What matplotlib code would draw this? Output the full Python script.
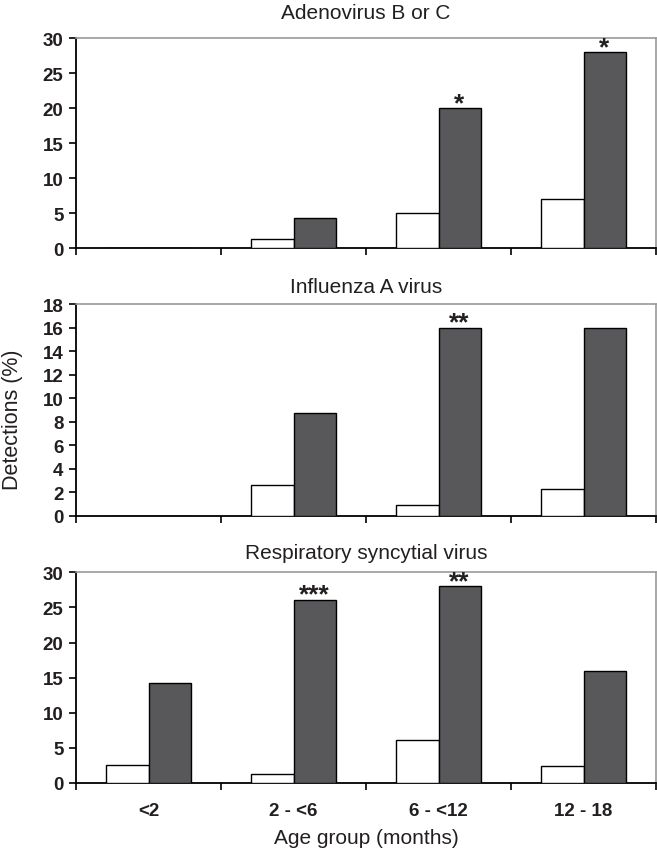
import matplotlib
matplotlib.use("Agg")
import matplotlib.pyplot as plt
import numpy as np

plt.rcParams['font.family'] = ['Liberation Sans', 'DejaVu Sans']

age_groups = ["<2", "2 - <6", "6 - <12", "12 - 18"]
titles = ["Adenovirus B or C", "Influenza A virus", "Respiratory syncytial virus"]

adeno_white = [0, 1.3, 5.1, 7.0]
adeno_dark = [0, 4.3, 20.0, 28.0]
adeno_stars = ["", "", "*", "*"]

flu_white = [0, 2.65, 0.9, 2.3]
flu_dark = [0, 8.7, 16.0, 16.0]
flu_stars = ["", "", "**", ""]

rsv_white = [2.5, 1.3, 6.1, 2.4]
rsv_dark = [14.2, 26.1, 28.0, 16.0]
rsv_stars = ["", "***", "**", ""]

ylims = [30, 18, 30]
ysteps = [5, 2, 5]

W, H = 657, 853
fig = plt.figure(figsize=(W / 100, H / 100), dpi=100)

# axes boxes in pixels: (top, bottom)
boxes = [(39.3, 249.3), (305, 516.7), (573.3, 784)]
left_px, right_px = 76, 656
title_pads = [14.5, 8.5, 10.5]

data = [(adeno_white, adeno_dark, adeno_stars),
        (flu_white, flu_dark, flu_stars),
        (rsv_white, rsv_dark, rsv_stars)]

x = np.arange(len(age_groups))
bw = 0.29
txt_color = "#231f20"

for k, ((top, bot), (wv, dv, stars)) in enumerate(zip(boxes, data)):
    ax = fig.add_axes([left_px / W, (H - bot) / H, (right_px - left_px) / W, (bot - top) / H])
    ax.bar(x - bw / 2, wv, width=bw, color="white", edgecolor="black", linewidth=1.0, zorder=3)
    ax.bar(x + bw / 2, dv, width=bw, color="#58585a", edgecolor="black", linewidth=1.0, zorder=3)
    for xi, v, s in zip(x, dv, stars):
        if s:
            ax.annotate(s, xy=(xi + bw / 2, v), xytext=(0, -1.5), textcoords="offset points",
                        ha="center", va="baseline", fontsize=19, fontweight="bold",
                        color=txt_color, annotation_clip=False)
    ax.set_xlim(-0.5, len(age_groups) - 0.5)
    ax.set_ylim(0, ylims[k])
    ax.set_yticks(np.arange(0, ylims[k] + 0.01, ysteps[k]))
    ax.set_xticks(np.arange(-0.5, len(age_groups), 1.0))
    ax.set_xticklabels([])
    ax.tick_params(axis="y", direction="out", length=5, width=1.2, labelsize=13.5,
                   pad=4, colors="black", labelcolor=txt_color)
    ax.tick_params(axis="x", direction="out", length=5, width=1.2, colors="black")
    for lbl in ax.get_yticklabels():
        lbl.set_fontweight("bold")
    for side in ["top", "right"]:
        ax.spines[side].set_color("#9a9a9a")
        ax.spines[side].set_linewidth(1.2)
    for side in ["left", "bottom"]:
        ax.spines[side].set_color("black")
        ax.spines[side].set_linewidth(1.3)
    ax.set_title(titles[k], fontsize=15, pad=title_pads[k], color=txt_color)
    if k == 2:
        ax.set_xticks(x, minor=True)
        ax.set_xticklabels(age_groups, minor=True, fontsize=13.5, fontweight="bold", color=txt_color)
        ax.tick_params(axis="x", which="minor", length=0, pad=14)
        ax.set_xlabel("Age group (months)", fontsize=15, color=txt_color, labelpad=6)

fig.text(13 / W, (H - 420) / H, "Detections (%)", rotation=90, ha="center", va="center",
         fontsize=15.5, color=txt_color)

fig.savefig("out.png", dpi=100)
